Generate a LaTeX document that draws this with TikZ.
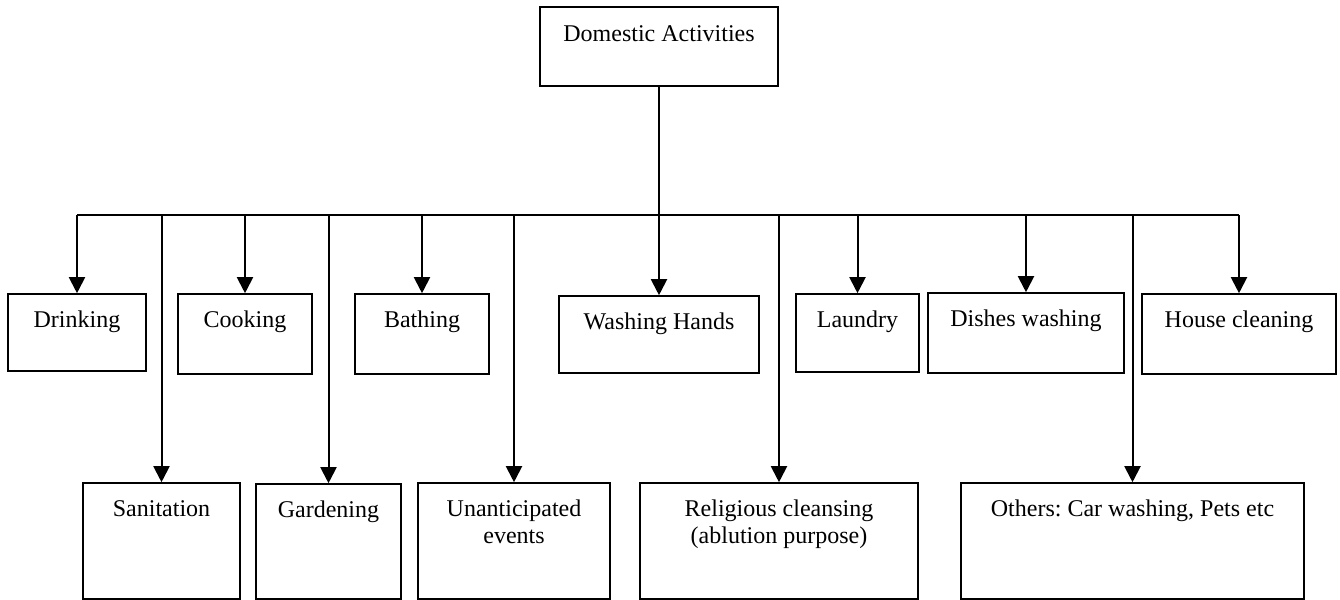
\documentclass[tikz,border=0pt]{standalone}
\usepackage{fontspec}
\setmainfont{Liberation Serif}
\usetikzlibrary{fit,arrows.meta}
\frenchspacing
\begin{document}
\begin{tikzpicture}[x=0.5pt,y=-0.5pt,
  box/.style={draw,line width=0.8pt,rectangle,inner sep=0pt},
  lbl/.style={anchor=base,inner sep=0pt,align=center,font=\fontsize{12pt}{13.4pt}\selectfont},
  conn/.style={line width=1pt},
  arr/.style={line width=1pt,-{Triangle[length=8pt,width=8pt]}}]
\useasboundingbox (0,0) rectangle (1340,600);
% boxes
\node[box,fit={(540,7) (778,86)}] (top) {};
\node[box,fit={(8,294) (146,371)}] (drink) {};
\node[box,fit={(178,294) (312,374)}] (cook) {};
\node[box,fit={(355,294) (489,374)}] (bath) {};
\node[box,fit={(559,296) (759,373)}] (wash) {};
\node[box,fit={(796,294) (919,372)}] (laund) {};
\node[box,fit={(928,293) (1124,373)}] (dish) {};
\node[box,fit={(1142,294) (1336,374)}] (house) {};
\node[box,fit={(83,483) (240,599)}] (sanit) {};
\node[box,fit={(256,484) (401,599)}] (garden) {};
\node[box,fit={(418,483) (610,599)}] (unant) {};
\node[box,fit={(640,483) (918,599)}] (relig) {};
\node[box,fit={(961,483) (1304,599)}] (others) {};
% labels
\node[lbl] (ttop) at ([yshift=-17.5pt]top.north) {Domestic Activities};
\node[lbl] (tdrink) at ([yshift=-17pt]drink.north) {Drinking};
\node[lbl] (tcook) at ([yshift=-17pt]cook.north) {Cooking};
\node[lbl] (tbath) at ([yshift=-17pt]bath.north) {Bathing};
\node[lbl] (twash) at ([yshift=-17pt]wash.north) {Washing Hands};
\node[lbl] (tlaund) at ([yshift=-17pt]laund.north) {Laundry};
\node[lbl] (tdish) at ([yshift=-17pt]dish.north) {Dishes washing};
\node[lbl] (thouse) at ([yshift=-17pt]house.north) {House cleaning};
\node[lbl] (tsanit) at ([yshift=-17pt]sanit.north) {Sanitation};
\node[lbl] (tgarden) at ([yshift=-17pt]garden.north) {Gardening};
\node[lbl] (tunant) at ([yshift=-30.4pt]unant.north) {Unanticipated\\events};
\node[lbl] (trelig) at ([yshift=-30.4pt]relig.north) {Religious cleansing\\(ablution purpose)};
\node[lbl] (tothers) at ([yshift=-17pt]others.north) {Others: Car washing, Pets etc};
% connectors
\coordinate (bus) at (0,215);
\draw[conn] (drink.north |- bus) -- (house.north |- bus);
\draw[arr] (top.south) -- (wash.north);
\foreach \c in {drink,cook,bath,laund,dish,house,sanit,garden,unant,relig,others}
  \draw[arr] (\c.north |- bus) -- (\c.north);
\end{tikzpicture}
\end{document}
